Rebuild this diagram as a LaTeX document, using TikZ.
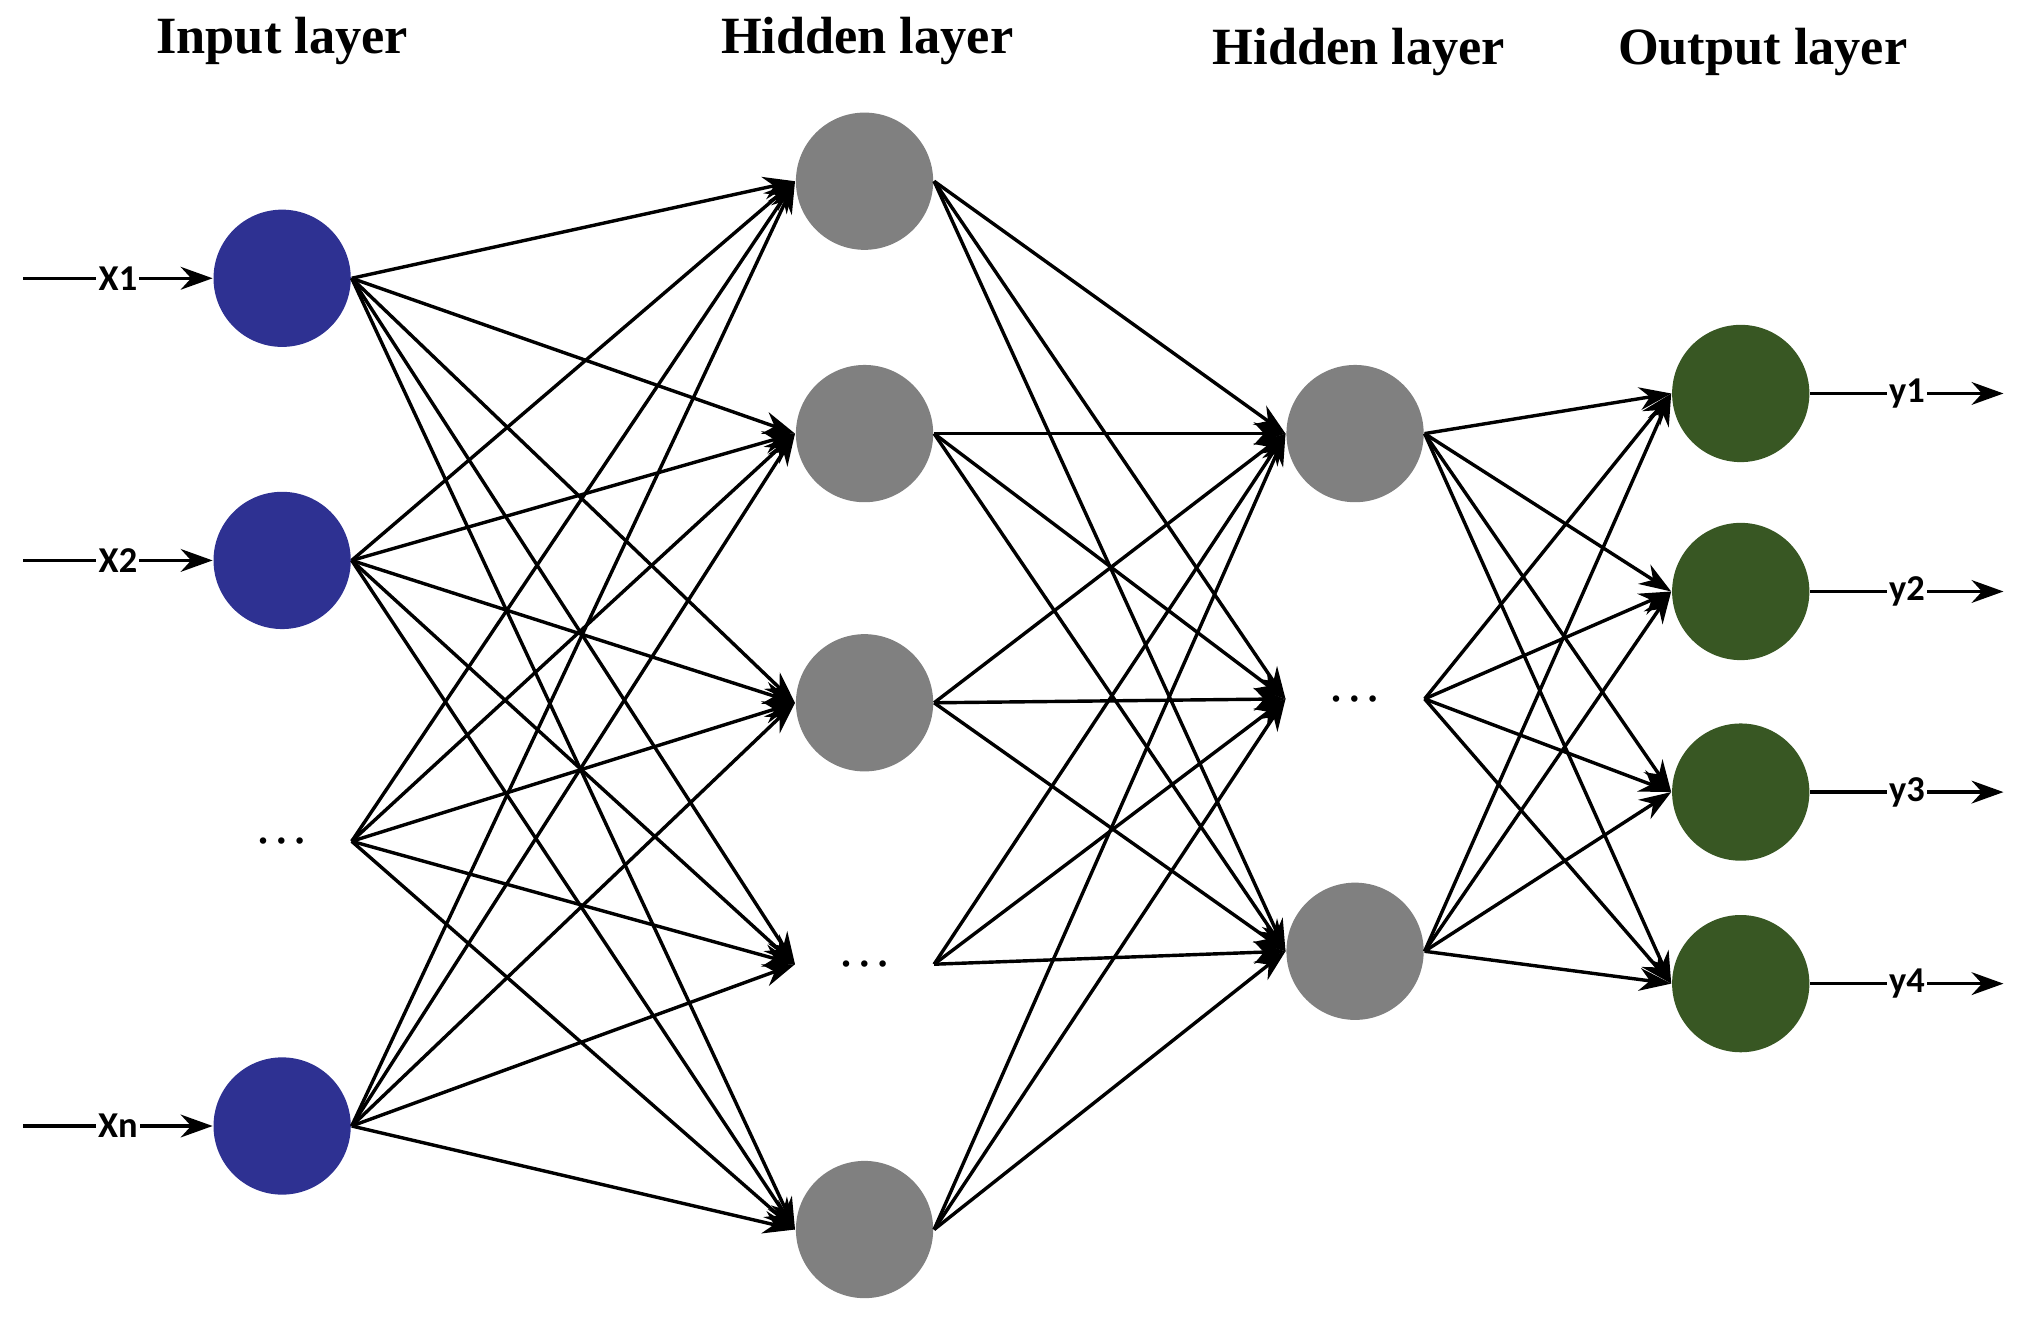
\documentclass[tikz,border=0pt]{standalone}
\usepackage{fontspec}
\setmainfont{Liberation Serif}
\newfontfamily\lbl{Carlito}
\usetikzlibrary{arrows.meta}
\definecolor{inblue}{HTML}{2E3192}
\definecolor{hgray}{HTML}{808080}
\definecolor{ogreen}{HTML}{385723}
\begin{document}
\begin{tikzpicture}[x=0.01cm,y=-0.01cm,
  neuron/.style={circle,minimum size=1.06cm,inner sep=0},
  dotn/.style={rectangle,minimum width=1.06cm,minimum height=0.1cm,inner sep=0,font=\large},
  conn/.style={line width=0.75pt,-{Stealth[length=7pt,width=5pt]}},
  title/.style={font=\fontsize{11.5}{13}\selectfont\bfseries},
  lab/.style={font=\lbl\fontsize{8}{9}\selectfont\bfseries,fill=white,inner sep=0.5pt}]
\useasboundingbox (0,0) rectangle (1560,1026);
% titles
\node[title] (t1) at (218,32) {Input layer};
\node[title] (t2) at (670,32) {Hidden layer};
\node[title] (t3) at (1050,40) {Hidden layer};
\node[title] (t4) at (1362,40) {Output layer};
% input
\node[neuron,fill=inblue] (i1) at (218,215) {};
\node[neuron,fill=inblue] (i2) at (218,433) {};
\node[dotn] (i3) at (218,650) {\dots};
\node[neuron,fill=inblue] (i4) at (218,870) {};
% hidden 1
\node[neuron,fill=hgray] (h1) at (668,140) {};
\node[neuron,fill=hgray] (h2) at (668,335) {};
\node[neuron,fill=hgray] (h3) at (668,543) {};
\node[dotn] (h4) at (668,745) {\dots};
\node[neuron,fill=hgray] (h5) at (668,950) {};
% hidden 2
\node[neuron,fill=hgray] (g1) at (1047,335) {};
\node[dotn] (g2) at (1047,540) {\dots};
\node[neuron,fill=hgray] (g3) at (1047,735) {};
% output
\node[neuron,fill=ogreen] (o1) at (1345,304) {};
\node[neuron,fill=ogreen] (o2) at (1345,457) {};
\node[neuron,fill=ogreen] (o3) at (1345,612) {};
\node[neuron,fill=ogreen] (o4) at (1345,760) {};
% connections
\foreach \a in {1,2,3,4}{\foreach \b in {1,...,5}{\draw[conn] (i\a.east) -- (h\b.west);}}
\foreach \a in {1,...,5}{\foreach \b in {1,2,3}{\draw[conn] (h\a.east) -- (g\b.west);}}
\foreach \a in {1,2,3}{\foreach \b in {1,...,4}{\draw[conn] (g\a.east) -- (o\b.west);}}
% inputs
\coordinate (s1) at (18,215); \coordinate (s2) at (18,433); \coordinate (s4) at (18,870);
\draw[conn] (s1) -- node[lab]{X1} (i1.west);
\draw[conn] (s2) -- node[lab]{X2} (i2.west);
\draw[conn] (s4) -- node[lab]{Xn} (i4.west);
% outputs
\coordinate (e1) at (1548,304); \coordinate (e2) at (1548,457);
\coordinate (e3) at (1548,612); \coordinate (e4) at (1548,760);
\foreach \k in {1,2,3,4}{\draw[conn] (o\k.east) -- node[lab]{y\k} (e\k);}
\end{tikzpicture}
\end{document}
